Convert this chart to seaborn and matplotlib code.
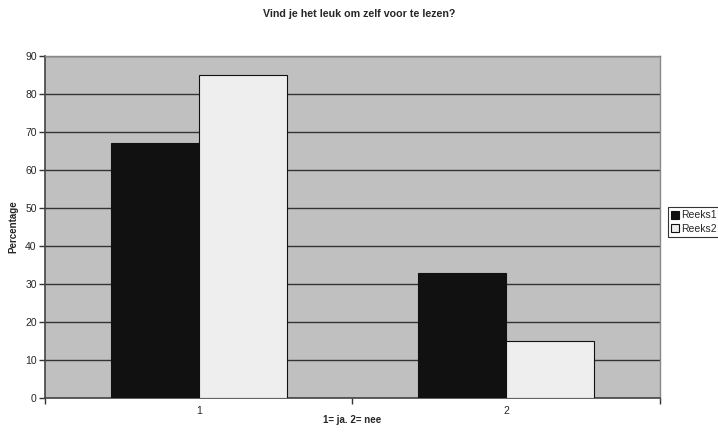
import matplotlib
matplotlib.use("Agg")
import matplotlib.pyplot as plt
import seaborn as sns
import pandas as pd

categories = ["1", "2"]
reeks1 = [67, 33]
reeks2 = [85, 15]
series_names = ["Reeks1", "Reeks2"]
y_ticks = [0, 10, 20, 30, 40, 50, 60, 70, 80, 90]

df = pd.DataFrame({
    "cat": categories * 2,
    "val": reeks1 + reeks2,
    "serie": [series_names[0]] * len(categories) + [series_names[1]] * len(categories),
})

sns.set_style("white")
plt.rcParams["font.family"] = ["Liberation Sans", "DejaVu Sans"]

fig = plt.figure(figsize=(7.18, 4.34), dpi=100)
ax = fig.add_axes([45 / 718, 1 - 398 / 434, 615 / 718, 342 / 434])
ax.set_facecolor("#c0c0c0")

sns.barplot(data=df, x="cat", y="val", hue="serie", order=categories,
            hue_order=series_names, palette=["#111111", "#eeeeee"],
            width=0.573, saturation=1, edgecolor="#111111", linewidth=0.8,
            ax=ax, zorder=3)

ax.set_xlim(-0.5, 1.5)
ax.set_ylim(0, 90)
ax.set_yticks(y_ticks)
ax.yaxis.grid(True, color="#333333", linewidth=1.0, zorder=0)
ax.set_axisbelow(True)

# category labels centred, tick marks on the category boundaries
ax.set_xticks([0, 1])
ax.set_xticklabels(categories)
ax.set_xticks([-0.5, 0.5, 1.5], minor=True)
ax.tick_params(axis="x", which="major", bottom=False, length=0, labelsize=7.5, pad=6)
ax.tick_params(axis="x", which="minor", bottom=True, length=4, width=1,
               color="#333333", direction="out")
ax.tick_params(axis="y", left=True, length=4, width=1, color="#333333",
               direction="out", labelsize=7.5, pad=2)

for side in ["left", "bottom"]:
    ax.spines[side].set_color("#444444")
    ax.spines[side].set_linewidth(1.2)
for side in ["top", "right"]:
    ax.spines[side].set_color("#888888")
    ax.spines[side].set_linewidth(1.0)
    ax.spines[side].set_visible(True)

ax.set_xlabel("1= ja. 2= nee", fontsize=7, fontweight="bold", labelpad=-1)
ax.set_ylabel("Percentage", fontsize=7, fontweight="bold", labelpad=5)
fig.text(0.5, 1 - 14 / 434, "Vind je het leuk om zelf voor te lezen?",
         ha="center", va="center", fontsize=7.7, fontweight="bold")

leg = ax.legend(loc="center left", bbox_to_anchor=(668 / 718, 1 - 222 / 434),
                bbox_transform=fig.transFigure, frameon=True, fancybox=False,
                fontsize=7.5, handlelength=0.8, handleheight=0.8, handletextpad=0.2,
                borderpad=0.3, labelspacing=0.3, borderaxespad=0, title=None)
leg.get_frame().set_edgecolor("#000000")
leg.get_frame().set_linewidth(0.8)

fig.savefig("out.png", dpi=100, facecolor="white")
